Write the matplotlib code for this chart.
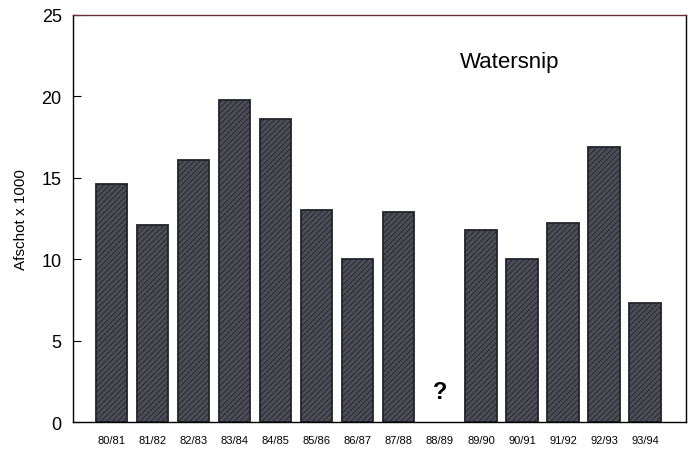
import matplotlib
matplotlib.use("Agg")
import matplotlib.pyplot as plt
import numpy as np

seasons = ["80/81", "81/82", "82/83", "83/84", "84/85", "85/86", "86/87",
           "87/88", "88/89", "89/90", "90/91", "91/92", "92/93", "93/94"]
# 88/89 has no data (shown as "?")
afschot = [14.6, 12.1, 16.1, 19.8, 18.6, 13.0, 10.0,
           12.9, np.nan, 11.8, 10.0, 12.2, 16.9, 7.3]
yticks = [0, 5, 10, 15, 20, 25]

plt.rcParams["font.family"] = ["Liberation Sans", "DejaVu Sans"]
plt.rcParams["hatch.linewidth"] = 0.6

fig = plt.figure(figsize=(6.93, 4.56), dpi=100)
ax = fig.add_axes([0.105, 0.072, 0.885, 0.893])

x = np.arange(len(seasons))
vals = np.array(afschot, dtype=float)
ok = ~np.isnan(vals)
ax.bar(x[ok], vals[ok], width=0.76, color="#4e4e58",
       edgecolor="#22222a", linewidth=1.3, hatch="//////")

ax.set_xlim(-0.95, 14.0)
ax.set_ylim(0, 25)
ax.set_yticks(yticks)
ax.set_xticks(x)
ax.set_xticklabels(seasons, fontsize=8)
ax.tick_params(axis="x", length=0, pad=9)
ax.tick_params(axis="y", direction="in", length=6, labelsize=13, pad=8)
ax.set_ylabel("Afschot x 1000", fontsize=11, labelpad=10)

for s in ax.spines.values():
    s.set_linewidth(1.0)
    s.set_color("black")
ax.spines["top"].set_color("#6a2a3a")

ax.text(8, 1.2, "?", ha="center", va="bottom", fontsize=17, fontweight="bold")
ax.text(0.713, 0.885, "Watersnip", transform=ax.transAxes, ha="center",
        va="center", fontsize=16)

fig.savefig("out.png", dpi=100)
plt.close(fig)
